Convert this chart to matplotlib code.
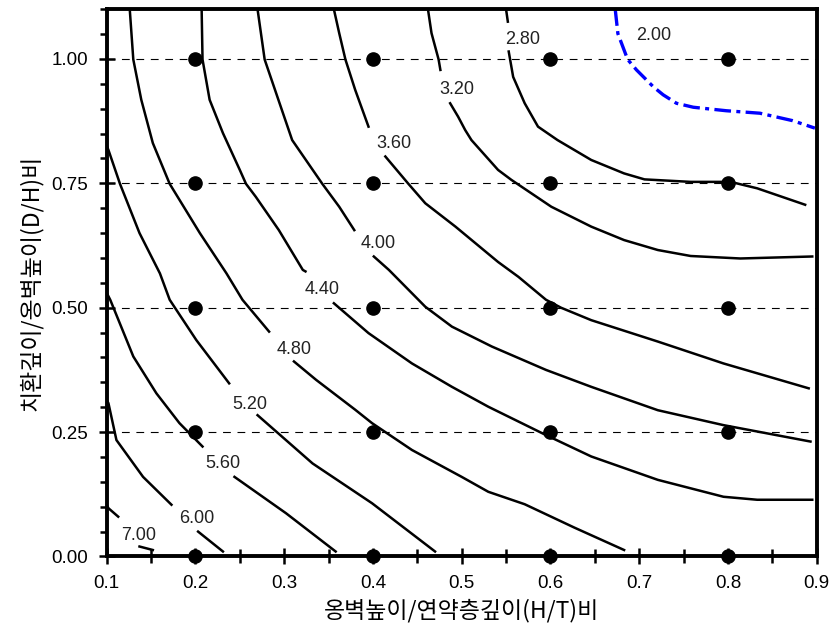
import matplotlib as mpl
import matplotlib.pyplot as plt
import numpy as np
from matplotlib.ticker import MultipleLocator, FormatStrFormatter

NAN = np.nan

mpl.rcParams.update({
    "font.family": ["Liberation Sans", "DejaVu Sans"],
    "font.size": 13,
})

KO = ["Noto Sans CJK KR", "DejaVu Sans"]

# analysed cases (wall height / soft layer depth, replacement depth / wall height)
ht_cases = [0.2, 0.4, 0.6, 0.8]
dh_cases = [0.0, 0.25, 0.5, 0.75, 1.0]

# contour traces, NaN = break where the label sits
fs200_x = [0.673, 0.676, 0.687, 0.697, 0.716, 0.727, 0.742, 0.761, 0.798, 0.836, 0.873, 0.898]
fs200_y = [1.100, 1.051, 0.999, 0.978, 0.944, 0.928, 0.911, 0.903, 0.896, 0.891, 0.876, 0.861]

fs280_x = [0.550, 0.552, NAN, 0.553, 0.558, 0.571, 0.586, 0.608, 0.646, 0.683, 0.706, 0.758, 0.803, 0.833, 0.887]
fs280_y = [1.100, 1.075, NAN, 1.015, 0.964, 0.911, 0.864, 0.837, 0.797, 0.770, 0.758, 0.753, 0.753, 0.740, 0.707]

fs320_x = [0.462, 0.466, 0.474, 0.476, NAN, 0.487, 0.496, 0.504, 0.511, 0.541, 0.556, 0.601,
           0.646, 0.683, 0.721, 0.758, 0.814, 0.895]
fs320_y = [1.100, 1.052, 0.999, 0.978, NAN, 0.911, 0.884, 0.857, 0.837, 0.777, 0.757, 0.703,
           0.663, 0.636, 0.616, 0.604, 0.599, 0.603]

fs360_x = [0.356, 0.362, 0.369, 0.380, 0.395, NAN, 0.414, 0.440, 0.459, 0.493, 0.541, 0.564, 0.595,
           0.612, 0.646, 0.721, 0.795, 0.891]
fs360_y = [1.100, 1.052, 0.999, 0.938, 0.864, NAN, 0.804, 0.749, 0.710, 0.663, 0.592, 0.562, 0.516,
           0.500, 0.475, 0.432, 0.388, 0.338]

fs400_x = [0.270, 0.278, 0.291, 0.309, 0.343, 0.362, 0.379, NAN, 0.401, 0.418, 0.459, 0.489, 0.534,
           0.595, 0.646, 0.721, 0.795, 0.893]
fs400_y = [1.100, 0.999, 0.931, 0.837, 0.749, 0.703, 0.656, NAN, 0.603, 0.576, 0.502, 0.462, 0.422,
           0.375, 0.341, 0.294, 0.264, 0.231]

fs440_x = [0.207, 0.208, 0.216, 0.231, 0.250, 0.257, 0.268, 0.294, 0.321, 0.324, NAN, 0.356, 0.395,
           0.444, 0.489, 0.530, 0.595, 0.646, 0.721, 0.795, 0.833, 0.895]
fs440_y = [1.100, 0.999, 0.918, 0.851, 0.777, 0.749, 0.723, 0.656, 0.576, 0.573, NAN, 0.509, 0.449,
           0.388, 0.341, 0.301, 0.244, 0.201, 0.154, 0.120, 0.114, 0.114]

fs480_x = [0.126, 0.130, 0.139, 0.152, 0.171, 0.205, 0.235, 0.253, 0.283, NAN, 0.311, 0.336, 0.380,
           0.399, 0.444, 0.500, 0.530, 0.571, 0.627, 0.683]
fs480_y = [1.100, 0.999, 0.918, 0.831, 0.749, 0.650, 0.569, 0.516, 0.452, NAN, 0.392, 0.355, 0.295,
           0.268, 0.214, 0.160, 0.130, 0.105, 0.058, 0.013]

fs520_x = [0.100, 0.102, 0.115, 0.137, 0.160, 0.171, 0.201, 0.238, NAN, 0.270, 0.332, 0.399, 0.470]
fs520_y = [0.826, 0.817, 0.749, 0.650, 0.569, 0.516, 0.435, 0.348, NAN, 0.284, 0.187, 0.107, 0.010]

fs560_x = [0.100, 0.104, 0.130, 0.156, 0.182, 0.208, NAN, 0.244, 0.302, 0.358]
fs560_y = [0.530, 0.516, 0.402, 0.328, 0.268, 0.221, NAN, 0.160, 0.087, 0.010]

fs600_x = [0.100, 0.102, 0.111, 0.141, 0.173, NAN, 0.203, 0.231]
fs600_y = [0.315, 0.308, 0.234, 0.160, 0.104, NAN, 0.050, 0.010]

fs700_x = [0.100, 0.102, 0.113, NAN, 0.137, 0.152]
fs700_y = [0.104, 0.097, 0.080, NAN, 0.020, 0.013]

levels = [2.0, 2.8, 3.2, 3.6, 4.0, 4.4, 4.8, 5.2, 5.6, 6.0, 7.0]
traces = [
    (fs200_x, fs200_y), (fs280_x, fs280_y), (fs320_x, fs320_y), (fs360_x, fs360_y),
    (fs400_x, fs400_y), (fs440_x, fs440_y), (fs480_x, fs480_y), (fs520_x, fs520_y),
    (fs560_x, fs560_y), (fs600_x, fs600_y), (fs700_x, fs700_y),
]
# where each level label is written (centre of text)
label_at = [
    (0.716, 1.048), (0.569, 1.040), (0.494, 0.938), (0.424, 0.831), (0.406, 0.630),
    (0.343, 0.536), (0.311, 0.416), (0.261, 0.305), (0.231, 0.187), (0.201, 0.077),
    (0.136, 0.043),
]

fig = plt.figure(figsize=(8.36, 6.33), dpi=100)
ax = fig.add_axes([0.1276, 0.1209, 0.8493, 0.8645])

ax.grid(axis="y", which="major", color="black", lw=0.8, ls=(0, (7, 6)))
ax.set_axisbelow(True)

for lev, (xs, ys), (lx, ly) in zip(levels, traces, label_at):
    if lev == 2.0:
        ax.plot(xs, ys, color="#0000ff", lw=2.4, ls=(0, (5, 1.6, 1.2, 1.6)), zorder=3)
    else:
        ax.plot(xs, ys, color="black", lw=1.8, zorder=3)
    ax.text(lx, ly, f"{lev:.2f}", ha="center", va="center", fontsize=13, color="#222222", zorder=4)

hx, dy = np.meshgrid(ht_cases, dh_cases)
ax.plot(hx.ravel(), dy.ravel(), "o", color="black", ms=9.5, ls="none", clip_on=False, zorder=5)

ax.set_xlim(0.1, 0.9)
ax.set_ylim(0, 1.1)
ax.xaxis.set_major_locator(MultipleLocator(0.1))
ax.xaxis.set_minor_locator(MultipleLocator(0.05))
ax.xaxis.set_major_formatter(FormatStrFormatter("%.1f"))
ax.yaxis.set_major_locator(mpl.ticker.FixedLocator([0, 0.25, 0.5, 0.75, 1.0]))
ax.yaxis.set_minor_locator(MultipleLocator(0.05))
ax.yaxis.set_major_formatter(FormatStrFormatter("%.2f"))

ax.tick_params(axis="x", which="major", direction="inout", length=11, width=1.8, pad=8, labelsize=13.5)
ax.tick_params(axis="x", which="minor", direction="inout", length=10, width=1.8)
ax.tick_params(axis="y", which="major", direction="inout", length=11, width=1.8, pad=8, labelsize=13.5)
ax.tick_params(axis="y", which="minor", direction="out", length=5, width=1.8)

for s in ax.spines.values():
    s.set_linewidth(2.8)
    s.set_zorder(6)

ax.set_xlabel("옹벽높이/연약층깊이(H/T)비", family=KO, fontsize=16.5, labelpad=5)
ax.set_ylabel("치환깊이/옹벽높이(D/H)비", family=KO, fontsize=16.5, labelpad=6)

fig.savefig("out.png", dpi=100)
